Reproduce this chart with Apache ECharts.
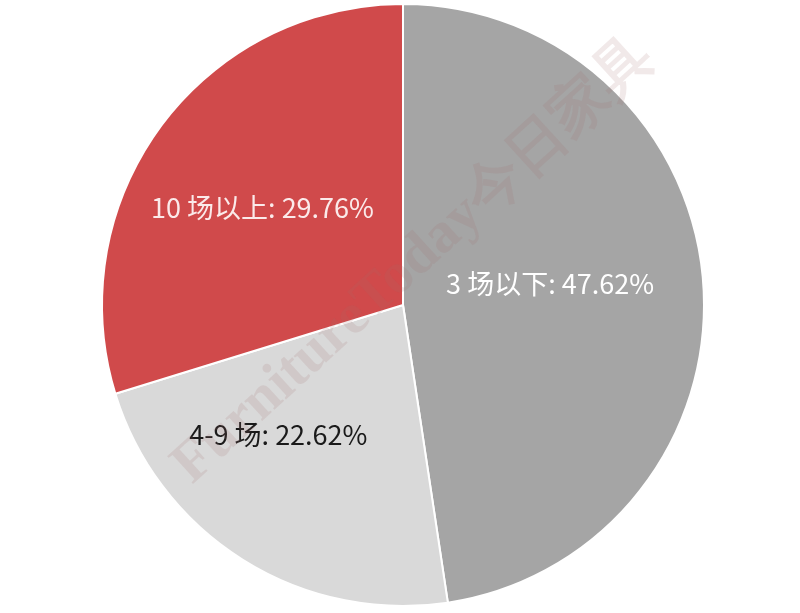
<!DOCTYPE html>
<html>
<head>
<meta charset="utf-8">
<script src="https://cdn.jsdelivr.net/npm/echarts@6/dist/echarts.min.js"></script>
<style>html,body{margin:0;padding:0;background:#fff}#c{width:800px;height:613px}</style>
</head>
<body>
<div id="c"></div>
<script>
const categories = ['3 场以下', '4-9 场', '10 场以上'];
const shares = [47.62, 22.62, 29.76];

const colors = ['#a5a5a5', '#d9d9d9', '#d04a4b'];
const labelColors = ['#ffffff', '#1a1a1a', '#fbeaea'];
const labelOffsets = [[-6, -10], [-43, 0], [-17, -6]];

const chart = echarts.init(document.getElementById('c'));
chart.setOption({
  animation: false,
  backgroundColor: '#ffffff',
  graphic: [{
    type: 'text',
    x: 414, y: 262,
    rotation: 0.74,
    z: 100,
    silent: true,
    style: {
      text: 'FurnitureToday今日家具',
      font: 'bold 58px "Liberation Serif", serif',
      fill: 'rgba(160,110,110,0.15)',
      align: 'center',
      verticalAlign: 'middle'
    }
  }],
  series: [{
    type: 'pie',
    center: [403, 305],
    radius: [0, 301],
    startAngle: 90,
    clockwise: true,
    silent: true,
    itemStyle: { borderColor: '#ffffff', borderWidth: 2 },
    label: {
      show: true,
      position: 'inside',
      formatter: p => p.name + ': ' + p.value.toFixed(2) + '%',
      fontFamily: '"Noto Sans CJK SC", "Noto Sans", sans-serif',
      fontSize: 27
    },
    labelLine: { show: false },
    data: categories.map((c, i) => ({
      name: c,
      value: shares[i],
      itemStyle: { color: colors[i] },
      label: { color: labelColors[i], offset: labelOffsets[i] }
    }))
  }]
});
</script>
</body>
</html>
